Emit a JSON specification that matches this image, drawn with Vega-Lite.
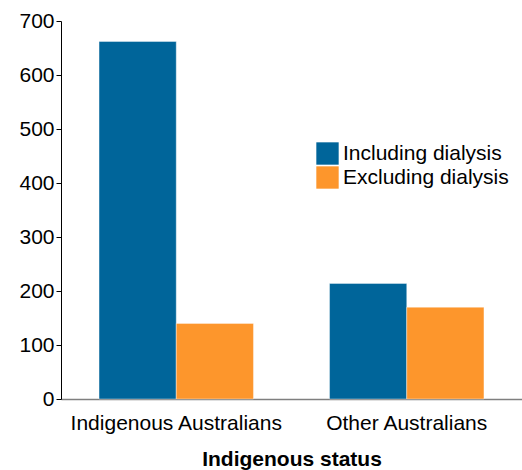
{
  "$schema": "https://vega.github.io/schema/vega-lite/v6.json",
  "width": 461,
  "height": 378,
  "autosize": "none",
  "padding": {"left": 61, "top": 21, "right": 0, "bottom": 71},
  "background": "white",
  "config": {"view": {"stroke": null}, "font": "Liberation Sans"},
  "data": {
    "values": [
      {"status": "Indigenous Australians", "type": "Including dialysis", "value": 662},
      {"status": "Indigenous Australians", "type": "Excluding dialysis", "value": 140},
      {"status": "Other Australians", "type": "Including dialysis", "value": 214},
      {"status": "Other Australians", "type": "Excluding dialysis", "value": 170}
    ]
  },
  "mark": {"type": "bar", "stroke": "white", "strokeWidth": 0.4},
  "encoding": {
    "x": {
      "field": "status",
      "type": "nominal",
      "sort": null,
      "scale": {"paddingInner": 0.33, "paddingOuter": 0.165},
      "axis": {
        "title": "Indigenous status",
        "titleFontSize": 21,
        "titleFontWeight": "bold",
        "titleColor": "black",
        "titlePadding": 15,
        "labelAngle": 0,
        "labelFontSize": 21,
        "labelLimit": 0,
        "labelColor": "black",
        "labelPadding": 13,
        "ticks": false,
        "domainColor": "#7f7f7f",
        "domainWidth": 1.5
      }
    },
    "xOffset": {"field": "type", "type": "nominal", "sort": ["Including dialysis", "Excluding dialysis"]},
    "y": {
      "field": "value",
      "type": "quantitative",
      "scale": {"domain": [0, 700]},
      "axis": {
        "title": null,
        "values": [0, 100, 200, 300, 400, 500, 600, 700],
        "grid": false,
        "labelFontSize": 21,
        "labelColor": "black",
        "labelPadding": 2,
        "tickSize": 5,
        "tickColor": "black",
        "domainColor": "black",
        "domainWidth": 1
      }
    },
    "color": {
      "field": "type",
      "type": "nominal",
      "sort": ["Including dialysis", "Excluding dialysis"],
      "scale": {"domain": ["Including dialysis", "Excluding dialysis"], "range": ["#00659A", "#FD962C"]},
      "legend": {
        "title": null,
        "orient": "none",
        "legendX": 255,
        "legendY": 121,
        "symbolType": "square",
        "symbolSize": 500,
        "symbolStrokeWidth": 0,
        "labelFontSize": 21,
        "labelLimit": 0,
        "labelColor": "black",
        "rowPadding": 1,
        "labelOffset": 4
      }
    }
  }
}
